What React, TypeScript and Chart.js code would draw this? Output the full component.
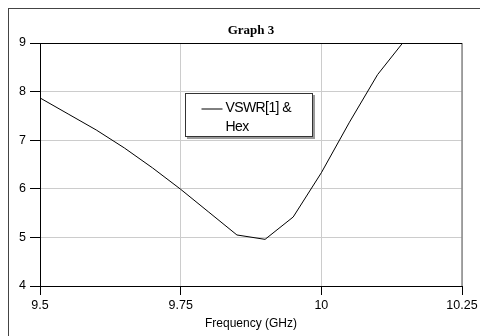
import React, { useEffect, useRef } from "react";
import { Chart, registerables } from "chart.js";

Chart.register(...registerables);

const chartTitle = "Graph 3";
const xAxisTitle = "Frequency (GHz)";
const legendLines = ["VSWR[1] &", "Hex"];
const frequencies = [9.5, 9.55, 9.6, 9.65, 9.7, 9.75, 9.8, 9.85, 9.9, 9.95, 10.0, 10.05, 10.1, 10.15];
const vswrValues = [7.87, 7.54, 7.21, 6.84, 6.43, 5.99, 5.52, 5.05, 4.96, 5.42, 6.33, 7.37, 8.35, 9.08];
const xTickValues = [9.5, 9.75, 10, 10.25];
const xTickLabels = ["9.5", "9.75", "10", "10.25"];
const yTickValues = [4, 5, 6, 7, 8, 9];
const yTickLabels = ["4", "5", "6", "7", "8", "9"];

const FONT = "'Liberation Sans', Arial, sans-serif";

const framePlugin = {
  id: "frameAndLegend",
  afterDraw(chart: any) {
    const { ctx, chartArea } = chart;
    const { left, top, right, bottom } = chartArea;
    ctx.save();
    ctx.strokeStyle = "#8a8a8a";
    ctx.lineWidth = 1.5;
    ctx.beginPath();
    ctx.moveTo(right, top);
    ctx.lineTo(right, bottom);
    ctx.stroke();
    ctx.strokeStyle = "#000";
    ctx.lineWidth = 1;
    ctx.beginPath();
    ctx.moveTo(left, top + 0.5);
    ctx.lineTo(right, top + 0.5);
    ctx.stroke();

    const bx = Math.round(left + 145) + 0.5;
    const by = Math.round(top + 50) + 0.5;
    const bw = 127;
    const bh = 43;
    ctx.fillStyle = "#9a9a9a";
    ctx.fillRect(bx + 1.5, by + 1.5, bw + 1, bh + 1);
    ctx.fillStyle = "#fff";
    ctx.fillRect(bx, by, bw, bh);
    ctx.strokeStyle = "#333";
    ctx.lineWidth = 1;
    ctx.strokeRect(bx, by, bw, bh);
    ctx.strokeStyle = "#000";
    ctx.beginPath();
    ctx.moveTo(bx + 16, by + 15.5);
    ctx.lineTo(bx + 37, by + 15.5);
    ctx.stroke();
    ctx.fillStyle = "#000";
    ctx.font = `14px ${FONT}`;
    (ctx as any).letterSpacing = "-0.6px";
    ctx.textAlign = "left";
    ctx.textBaseline = "alphabetic";
    legendLines.forEach((t, i) => {
      ctx.fillText(t, bx + 40, by + 18.5 + i * 18.5);
    });
    (ctx as any).letterSpacing = "0px";
    ctx.restore();
  },
};

export default function App() {
  const canvasRef = useRef<HTMLCanvasElement | null>(null);

  useEffect(() => {
    document.documentElement.style.overflow = "hidden";
    document.body.style.overflow = "hidden";
    const canvas = canvasRef.current;
    if (!canvas) return;
    const chart = new Chart(canvas, {
      type: "line",
      data: {
        datasets: [
          {
            label: legendLines.join(" "),
            data: frequencies.map((f, i) => ({ x: f, y: vswrValues[i] })),
            borderColor: "#000",
            borderWidth: 1,
            pointRadius: 0,
            tension: 0,
            fill: false,
          },
        ],
      },
      options: {
        animation: false,
        responsive: false,
        devicePixelRatio: 1,
        layout: { padding: { left: 0, right: 26, top: 0, bottom: 0 } },
        plugins: {
          legend: { display: false },
          tooltip: { enabled: false },
          title: {
            display: true,
            text: chartTitle,
            fullSize: false,
            color: "#000",
            font: { family: "'Liberation Serif', 'Times New Roman', serif", size: 13, weight: "bold" },
            padding: { top: 14, bottom: 4.4 },
          },
        },
        scales: {
          x: {
            type: "linear",
            min: xTickValues[0],
            max: xTickValues[xTickValues.length - 1],
            afterFit(scale: any) {
              scale.height = 50;
            },
            afterBuildTicks(scale: any) {
              scale.ticks = xTickValues.map((v) => ({ value: v }));
            },
            ticks: {
              color: "#000",
              font: { family: FONT, size: 12.5 },
              padding: 3,
              maxRotation: 0,
              autoSkip: false,
              callback: (v: any) => {
                const i = xTickValues.findIndex((t) => Math.abs(t - Number(v)) < 1e-6);
                return i >= 0 ? xTickLabels[i] : "";
              },
            },
            grid: {
              color: "#cccccc",
              lineWidth: 1,
              tickColor: "#000",
              tickLength: 9,
              drawTicks: true,
            },
            border: { display: true, color: "#000", width: 1 },
            title: {
              display: true,
              text: xAxisTitle,
              color: "#000",
              font: { family: FONT, size: 12 },
              padding: { top: 0, bottom: 5.5 },
            },
          },
          y: {
            type: "linear",
            min: yTickValues[0],
            max: yTickValues[yTickValues.length - 1],
            afterFit(scale: any) {
              scale.width = 31;
            },
            afterBuildTicks(scale: any) {
              scale.ticks = yTickValues.map((v) => ({ value: v }));
            },
            ticks: {
              color: "#000",
              font: { family: FONT, size: 12.5 },
              padding: 4,
              callback: (v: any) => {
                const i = yTickValues.findIndex((t) => Math.abs(t - Number(v)) < 1e-6);
                return i >= 0 ? yTickLabels[i] : "";
              },
            },
            grid: {
              color: "#cccccc",
              lineWidth: 1,
              tickColor: "#000",
              tickLength: 10,
            },
            border: { display: true, color: "#000", width: 1 },
          },
        },
      },
      plugins: [framePlugin],
    });
    return () => chart.destroy();
  }, []);

  return (
    <div
      style={{
        borderLeft: "1px solid #444",
        borderTop: "1px solid #444",
        width: 479,
        height: 327,
        background: "#fff",
      }}
    >
      <canvas ref={canvasRef} width={479} height={327} style={{ display: "block" }} />
    </div>
  );
}
